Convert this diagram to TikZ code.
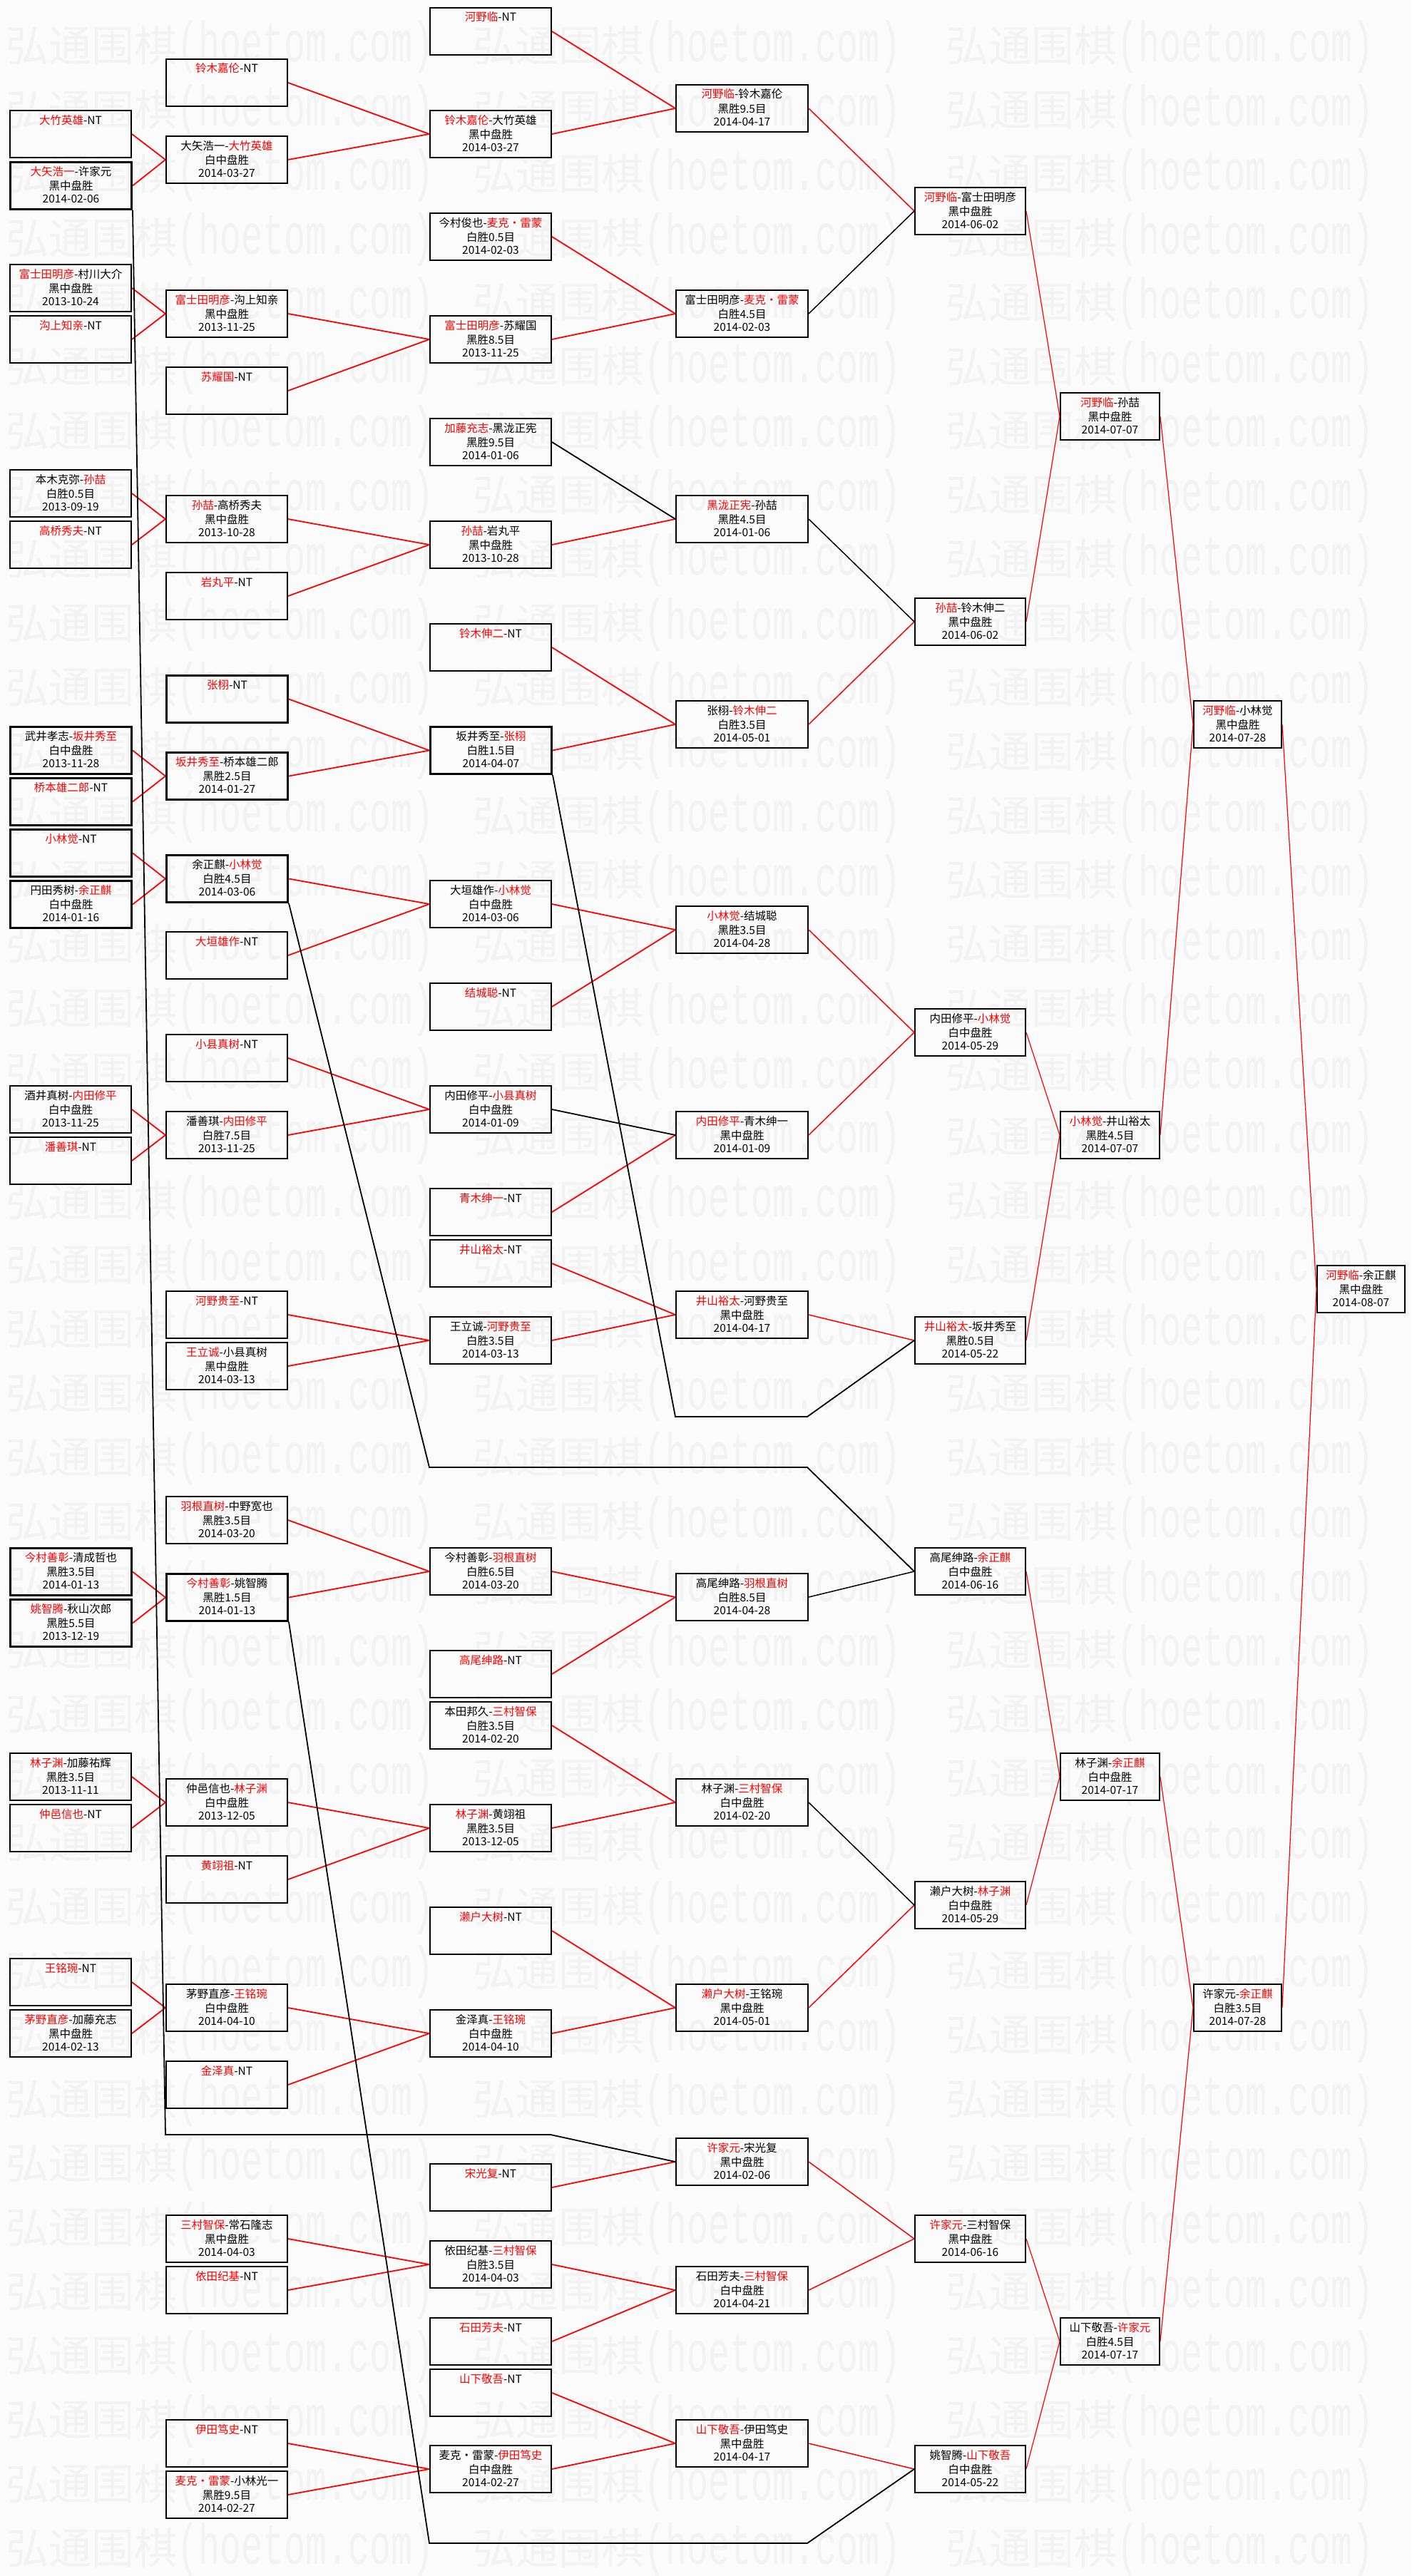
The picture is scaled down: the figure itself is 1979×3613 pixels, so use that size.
\documentclass[tikz,border=0pt]{standalone}
\usepackage{fontspec}
\usepackage{graphicx}
\newfontfamily\cjk{Noto Sans CJK SC}
\newfontfamily\wmmono{Liberation Mono}
\usetikzlibrary{calc}
\definecolor{wred}{RGB}{255,0,0}
\definecolor{bggray}{RGB}{251,251,251}
\definecolor{wmgray}{RGB}{243,243,243}
\newcommand\rd[1]{\textcolor{wred}{#1}}
\newcommand\md{\makebox[1em]{·}}
\tikzset{
 boxst/.style={draw=black, line width=2pt, rectangle, anchor=north west, minimum height=66pt, inner sep=0pt},
 thk/.style={line width=3pt},
 txt/.style={anchor=base, inner sep=0pt, font=\cjk\fontsize{15.5}{18}\selectfont},
 rl/.style={draw=wred, line width=1.8pt},
 bl/.style={draw=black, line width=1.8pt},
 rlb/.style={draw=wred, line width=1.5pt},
 blb/.style={draw=black, line width=1.5pt},
 rlc/.style={draw=wred, line width=1.2pt},
 wm/.style={anchor=west, inner sep=0pt, text=wmgray},
}
\newcommand\bx[7][]{%
 \node[boxst,minimum width=#4pt,#1] (#2) at (#3) {};
 \node[txt] at ($(#2.north)+(0,20)$) {#5};
 \node[txt] at ($(#2.north)+(0,40)$) {#6};
 \node[txt] at ($(#2.north)+(0,58)$) {#7};}
\newcommand\cA[6][]{\bx[#1]{#2}{13,#3}{170}{#4}{#5}{#6}}
\newcommand\cB[6][]{\bx[#1]{#2}{232,#3}{170}{#4}{#5}{#6}}
\newcommand\cC[6][]{\bx[#1]{#2}{602,#3}{170}{#4}{#5}{#6}}
\newcommand\cD[6][]{\bx[#1]{#2}{947,#3}{185}{#4}{#5}{#6}}
\newcommand\cE[6][]{\bx[#1]{#2}{1282,#3}{155}{#4}{#5}{#6}}
\newcommand\cF[6][]{\bx[#1]{#2}{1486,#3}{139}{#4}{#5}{#6}}
\newcommand\cG[6][]{\bx[#1]{#2}{1673,#3}{123}{#4}{#5}{#6}}
\newcommand\cH[6][]{\bx[#1]{#2}{1846,#3}{123}{#4}{#5}{#6}}
\begin{document}
\begin{tikzpicture}[x=1pt,y=-1pt]
\useasboundingbox (0,0) rectangle (1979,3613);
\fill[bggray] (0,0) rectangle (1979,3613);
% watermark
\foreach \r in {0,...,39}{\foreach \c in {8,663,1326}{
 \node[wm] at (\c,{66+90*\r}) {{\cjk\fontsize{60}{60}\selectfont 弘通围棋}\scalebox{0.625}[1]{\wmmono\fontsize{80}{80}\selectfont (hoetom.com)}};}}
% column 1
\cA{A1}{154}{\rd{大竹英雄}-NT}{}{}
\cA[thk]{A2}{226}{\rd{大矢浩一}-许家元}{黑中盘胜}{2014-02-06}
\cA{A3}{370}{\rd{富士田明彦}-村川大介}{黑中盘胜}{2013-10-24}
\cA{A4}{442}{\rd{沟上知亲}-NT}{}{}
\cA{A5}{658}{本木克弥-\rd{孙喆}}{白胜0.5目}{2013-09-19}
\cA{A6}{730}{\rd{高桥秀夫}-NT}{}{}
\cA[thk]{A7}{1018}{武井孝志-\rd{坂井秀至}}{白中盘胜}{2013-11-28}
\cA[thk]{A8}{1090}{\rd{桥本雄二郎}-NT}{}{}
\cA[thk]{A9}{1162}{\rd{小林觉}-NT}{}{}
\cA[thk]{A10}{1234}{円田秀树-\rd{余正麒}}{白中盘胜}{2014-01-16}
\cA{A11}{1522}{酒井真树-\rd{内田修平}}{白中盘胜}{2013-11-25}
\cA{A12}{1594}{\rd{潘善琪}-NT}{}{}
\cA[thk]{A13}{2170}{\rd{今村善彰}-清成哲也}{黑胜3.5目}{2014-01-13}
\cA[thk]{A14}{2242}{\rd{姚智腾}-秋山次郎}{黑胜5.5目}{2013-12-19}
\cA{A15}{2458}{\rd{林子渊}-加藤祐辉}{黑胜3.5目}{2013-11-11}
\cA{A16}{2530}{\rd{仲邑信也}-NT}{}{}
\cA{A17}{2746}{\rd{王铭琬}-NT}{}{}
\cA{A18}{2818}{\rd{茅野直彦}-加藤充志}{黑中盘胜}{2014-02-13}
% column 2
\cB{B1}{82}{\rd{铃木嘉伦}-NT}{}{}
\cB{B2}{190}{大矢浩一-\rd{大竹英雄}}{白中盘胜}{2014-03-27}
\cB{B3}{406}{\rd{富士田明彦}-沟上知亲}{黑中盘胜}{2013-11-25}
\cB{B4}{514}{\rd{苏耀国}-NT}{}{}
\cB{B5}{694}{\rd{孙喆}-高桥秀夫}{黑中盘胜}{2013-10-28}
\cB{B6}{802}{\rd{岩丸平}-NT}{}{}
\cB[thk]{B7}{946}{\rd{张栩}-NT}{}{}
\cB[thk]{B8}{1054}{\rd{坂井秀至}-桥本雄二郎}{黑胜2.5目}{2014-01-27}
\cB[thk]{B9}{1198}{余正麒-\rd{小林觉}}{白胜4.5目}{2014-03-06}
\cB{B10}{1306}{\rd{大垣雄作}-NT}{}{}
\cB{B11}{1450}{\rd{小县真树}-NT}{}{}
\cB{B12}{1558}{潘善琪-\rd{内田修平}}{白胜7.5目}{2013-11-25}
\cB{B13}{1810}{\rd{河野贵至}-NT}{}{}
\cB{B14}{1882}{\rd{王立诚}-小县真树}{黑中盘胜}{2014-03-13}
\cB{B15}{2098}{\rd{羽根直树}-中野宽也}{黑胜3.5目}{2014-03-20}
\cB[thk]{B16}{2206}{\rd{今村善彰}-姚智腾}{黑胜1.5目}{2014-01-13}
\cB{B17}{2494}{仲邑信也-\rd{林子渊}}{白中盘胜}{2013-12-05}
\cB{B18}{2602}{\rd{黄翊祖}-NT}{}{}
\cB{B19}{2782}{茅野直彦-\rd{王铭琬}}{白中盘胜}{2014-04-10}
\cB{B20}{2890}{\rd{金泽真}-NT}{}{}
\cB{B21}{3106}{\rd{三村智保}-常石隆志}{黑中盘胜}{2014-04-03}
\cB{B22}{3178}{\rd{依田纪基}-NT}{}{}
\cB{B23}{3393}{\rd{伊田笃史}-NT}{}{}
\cB{B24}{3465}{\rd{麦克\md 雷蒙}-小林光一}{黑胜9.5目}{2014-02-27}
% column 3
\cC{C1}{10}{\rd{河野临}-NT}{}{}
\cC{C2}{154}{\rd{铃木嘉伦}-大竹英雄}{黑中盘胜}{2014-03-27}
\cC{C3}{298}{今村俊也-\rd{麦克\md 雷蒙}}{白胜0.5目}{2014-02-03}
\cC{C4}{442}{\rd{富士田明彦}-苏耀国}{黑胜8.5目}{2013-11-25}
\cC{C5}{586}{\rd{加藤充志}-黑泷正宪}{黑胜9.5目}{2014-01-06}
\cC{C6}{730}{\rd{孙喆}-岩丸平}{黑中盘胜}{2013-10-28}
\cC{C7}{874}{\rd{铃木伸二}-NT}{}{}
\cC[thk]{C8}{1018}{坂井秀至-\rd{张栩}}{白胜1.5目}{2014-04-07}
\cC{C9}{1234}{大垣雄作-\rd{小林觉}}{白中盘胜}{2014-03-06}
\cC{C10}{1378}{\rd{结城聪}-NT}{}{}
\cC{C11}{1522}{内田修平-\rd{小县真树}}{白中盘胜}{2014-01-09}
\cC{C12}{1666}{\rd{青木绅一}-NT}{}{}
\cC{C13}{1738}{\rd{井山裕太}-NT}{}{}
\cC{C14}{1846}{王立诚-\rd{河野贵至}}{白胜3.5目}{2014-03-13}
\cC{C15}{2170}{今村善彰-\rd{羽根直树}}{白胜6.5目}{2014-03-20}
\cC{C16}{2314}{\rd{高尾绅路}-NT}{}{}
\cC{C17}{2386}{本田邦久-\rd{三村智保}}{白胜3.5目}{2014-02-20}
\cC{C18}{2530}{\rd{林子渊}-黄翊祖}{黑胜3.5目}{2013-12-05}
\cC{C19}{2674}{\rd{濑户大树}-NT}{}{}
\cC{C20}{2818}{金泽真-\rd{王铭琬}}{白中盘胜}{2014-04-10}
\cC{C21}{3034}{\rd{宋光复}-NT}{}{}
\cC{C22}{3142}{依田纪基-\rd{三村智保}}{白胜3.5目}{2014-04-03}
\cC{C23}{3250}{\rd{石田芳夫}-NT}{}{}
\cC{C24}{3322}{\rd{山下敬吾}-NT}{}{}
\cC{C25}{3429}{麦克\md 雷蒙-\rd{伊田笃史}}{白中盘胜}{2014-02-27}
% column 4
\cD{D1}{118}{\rd{河野临}-铃木嘉伦}{黑胜9.5目}{2014-04-17}
\cD{D2}{406}{富士田明彦-\rd{麦克\md 雷蒙}}{白胜4.5目}{2014-02-03}
\cD{D3}{694}{\rd{黑泷正宪}-孙喆}{黑胜4.5目}{2014-01-06}
\cD{D4}{982}{张栩-\rd{铃木伸二}}{白胜3.5目}{2014-05-01}
\cD{D5}{1270}{\rd{小林觉}-结城聪}{黑胜3.5目}{2014-04-28}
\cD{D6}{1558}{\rd{内田修平}-青木绅一}{黑中盘胜}{2014-01-09}
\cD{D7}{1810}{\rd{井山裕太}-河野贵至}{黑中盘胜}{2014-04-17}
\cD{D8}{2206}{高尾绅路-\rd{羽根直树}}{白胜8.5目}{2014-04-28}
\cD{D9}{2494}{林子渊-\rd{三村智保}}{白中盘胜}{2014-02-20}
\cD{D10}{2782}{\rd{濑户大树}-王铭琬}{黑中盘胜}{2014-05-01}
\cD{D11}{2998}{\rd{许家元}-宋光复}{黑中盘胜}{2014-02-06}
\cD{D12}{3178}{石田芳夫-\rd{三村智保}}{白中盘胜}{2014-04-21}
\cD{D13}{3393}{\rd{山下敬吾}-伊田笃史}{黑中盘胜}{2014-04-17}
% column 5
\cE{E1}{262}{\rd{河野临}-富士田明彦}{黑中盘胜}{2014-06-02}
\cE{E2}{838}{\rd{孙喆}-铃木伸二}{黑中盘胜}{2014-06-02}
\cE{E3}{1414}{内田修平-\rd{小林觉}}{白中盘胜}{2014-05-29}
\cE{E4}{1846}{\rd{井山裕太}-坂井秀至}{黑胜0.5目}{2014-05-22}
\cE{E5}{2170}{高尾绅路-\rd{余正麒}}{白中盘胜}{2014-06-16}
\cE{E6}{2638}{濑户大树-\rd{林子渊}}{白中盘胜}{2014-05-29}
\cE{E7}{3106}{\rd{许家元}-三村智保}{黑中盘胜}{2014-06-16}
\cE{E8}{3429}{姚智腾-\rd{山下敬吾}}{白中盘胜}{2014-05-22}
% column 6
\cF{F1}{550}{\rd{河野临}-孙喆}{黑中盘胜}{2014-07-07}
\cF{F2}{1558}{\rd{小林觉}-井山裕太}{黑胜4.5目}{2014-07-07}
\cF{F3}{2458}{林子渊-\rd{余正麒}}{白中盘胜}{2014-07-17}
\cF{F4}{3250}{山下敬吾-\rd{许家元}}{白胜4.5目}{2014-07-17}
% column 7
\cG{G1}{982}{\rd{河野临}-小林觉}{黑中盘胜}{2014-07-28}
\cG{G2}{2782}{许家元-\rd{余正麒}}{白胜3.5目}{2014-07-28}
% column 8
\cH{H1}{1774}{\rd{河野临}-余正麒}{黑中盘胜}{2014-08-07}
% connectors col1 -> col2
\foreach \a/\b in {A1/B2,A2/B2,A3/B3,A4/B3,A5/B5,A6/B5,A7/B8,A8/B8,A9/B9,A10/B9,A11/B12,A12/B12,A13/B16,A14/B16,A15/B17,A16/B17,A17/B19,A18/B19}
 \draw[rl] (\a.east) -- (\b.west);
% col2 -> col3
\foreach \a/\b in {B1/C2,B2/C2,B3/C4,B4/C4,B5/C6,B6/C6,B7/C8,B8/C8,B9/C9,B10/C9,B11/C11,B12/C11,B13/C14,B14/C14,B15/C15,B16/C15,B17/C18,B18/C18,B19/C20,B20/C20,B21/C22,B22/C22,B23/C25,B24/C25}
 \draw[rl] (\a.east) -- (\b.west);
% col3 -> col4
\foreach \a/\b in {C1/D1,C2/D1,C3/D2,C4/D2,C6/D3,C7/D4,C8/D4,C9/D5,C10/D5,C12/D6,C13/D7,C14/D7,C15/D8,C16/D8,C17/D9,C18/D9,C19/D10,C20/D10,C21/D11,C22/D12,C23/D12,C24/D13,C25/D13}
 \draw[rl] (\a.east) -- (\b.west);
\foreach \a/\b in {C5/D3,C11/D6}
 \draw[bl] (\a.east) -- (\b.west);
% col4 -> col5
\foreach \a/\b in {D1/E1,D4/E2,D5/E3,D6/E3,D7/E4,D10/E6,D11/E7,D12/E7,D13/E8}
 \draw[rlb] (\a.east) -- (\b.west);
\foreach \a/\b in {D2/E1,D3/E2,D8/E5,D9/E6}
 \draw[blb] (\a.east) -- (\b.west);
% long loser lines
\coordinate (L1a) at (232,2994); \coordinate (L1b) at (772,2994);
\coordinate (L2a) at (602,2058); \coordinate (L2b) at (1132,2058);
\coordinate (L3a) at (947,1987); \coordinate (L3b) at (1132,1987);
\coordinate (L4a) at (602,3567); \coordinate (L4b) at (1132,3567);
\draw[bl] (A2.south east) -- (L1a) -- (L1b) -- (D11.west);
\draw[bl] (B9.south east) -- (L2a) -- (L2b) -- (E5.west);
\draw[bl] (C8.south east) -- (L3a) -- (L3b) -- (E4.west);
\draw[bl] (B16.south east) -- (L4a) -- (L4b) -- (E8.west);
% col5 -> col6 -> col7 -> col8
\foreach \a/\b in {E1/F1,E2/F1,E3/F2,E4/F2,E5/F3,E6/F3,E7/F4,E8/F4,F1/G1,F2/G1,F3/G2,F4/G2,G1/H1,G2/H1}
 \draw[rlc] (\a.east) -- (\b.west);
\end{tikzpicture}
\end{document}
